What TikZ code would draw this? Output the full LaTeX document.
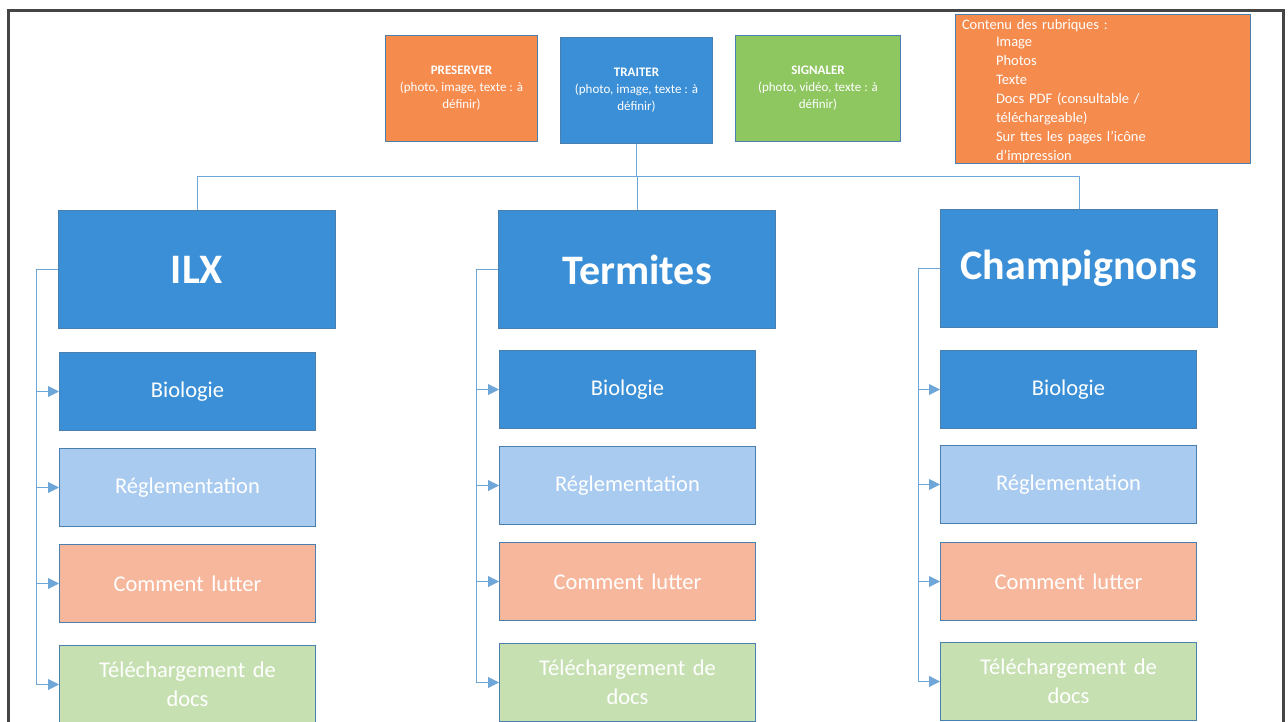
\documentclass[tikz,border=0pt]{standalone}
\usepackage{fontspec}
\setmainfont{Carlito}
\usetikzlibrary{arrows.meta}
\definecolor{mainblue}{HTML}{3A8FD6}
\definecolor{edgeblue}{HTML}{4A7FAE}
\definecolor{lineblue}{HTML}{6FA6D8}
\definecolor{paleblue}{HTML}{A9CBF0}
\definecolor{salmon}{HTML}{F7B79C}
\definecolor{palegreen}{HTML}{C6E0B2}
\definecolor{orangebox}{HTML}{F68B4E}
\definecolor{greenbox}{HTML}{8EC660}
\definecolor{framegrey}{HTML}{454545}
\tikzset{
  box/.style={draw=edgeblue, line width=1pt, anchor=north west, inner sep=4pt,
    text=white, align=center},
  topbox/.style={box, minimum width=152pt, minimum height=106pt,
    font=\fontsize{13}{17}\selectfont},
  headbox/.style={box, fill=mainblue, minimum width=277pt, minimum height=118pt,
    font=\fontsize{42}{46}\selectfont\bfseries},
  subbox/.style={box, minimum width=256pt, minimum height=78pt, text width=240pt,
    font=\fontsize{22.5}{29}\selectfont},
  bio/.style={subbox, fill=mainblue},
  regl/.style={subbox, fill=paleblue},
  lutte/.style={subbox, fill=salmon},
  docs/.style={subbox, fill=palegreen},
  link/.style={draw=lineblue, line width=1pt},
  feed/.style={link, -{Triangle[length=11pt, width=11pt, fill=lineblue]}}
}
\begin{document}
\begin{tikzpicture}[x=1pt, y=-1pt]
  \useasboundingbox (0,0) rectangle (1288,722);
  % page frame
  \draw[framegrey, line width=3pt] (8,760) -- (8,11) -- (1283,11) -- (1283,760);

  % top row
  \node[topbox, fill=orangebox] (preserver) at (385,35)
    {\textbf{PRESERVER}\\(photo, image, texte : à\\définir)};
  \node[topbox, fill=mainblue] (traiter) at (560,37)
    {\textbf{TRAITER}\\(photo, image, texte : à\\définir)};
  \node[topbox, fill=greenbox, minimum width=165pt] (signaler) at (735,35)
    {\textbf{SIGNALER}\\(photo, vidéo, texte : à\\définir)};
  \node[box, fill=orangebox, minimum width=295pt, minimum height=149pt,
        align=left, anchor=north west, text width=282pt,
        font=\fontsize{14.5}{19}\selectfont, inner sep=5pt] (contenu) at (955,14)
    {\vspace{-2pt}Contenu des rubriques :\\
     \hspace*{34pt}Image\\
     \hspace*{34pt}Photos\\
     \hspace*{34pt}Texte\\
     \hspace*{34pt}Docs PDF (consultable /\\
     \hspace*{34pt}téléchargeable)\\
     \hspace*{34pt}Sur ttes les pages l'icône\\
     \hspace*{34pt}d'impression\vspace{-4pt}};

  % column heads
  \node[headbox] (ilx) at (58,210) {ILX};
  \node[headbox] (termites) at (498,210) {Termites};
  \node[headbox] (champ) at (940,209) {Champignons};

  % ILX column
  \node[bio] (bioA) at (59,352) {Biologie};
  \node[regl] (reglA) at (59,448) {Réglementation};
  \node[lutte] (lutteA) at (59,544) {Comment lutter};
  \node[docs] (docsA) at (59,645) {Téléchargement de\\docs};

  % Termites column
  \node[bio] (bioB) at (499,350) {Biologie};
  \node[regl] (reglB) at (499,446) {Réglementation};
  \node[lutte] (lutteB) at (499,542) {Comment lutter};
  \node[docs] (docsB) at (499,643) {Téléchargement de\\docs};

  % Champignons column
  \node[bio] (bioC) at (940,350) {Biologie};
  \node[regl] (reglC) at (940,445) {Réglementation};
  \node[lutte] (lutteC) at (940,542) {Comment lutter};
  \node[docs] (docsC) at (940,642) {Téléchargement de\\docs};

  % tree from TRAITER to the three heads
  \coordinate (bus) at (0,177);
  \draw[link] (traiter.south) -- (traiter.south |- bus);
  \draw[link] (ilx.north) -- (ilx.north |- bus) -| (champ.north);
  \draw[link] (termites.north) -- (termites.north |- bus);

  % side spines feeding each column
  \foreach \h/\a/\b/\c/\d in {ilx/bioA/reglA/lutteA/docsA,
                             termites/bioB/reglB/lutteB/docsB,
                             champ/bioC/reglC/lutteC/docsC}{
    \coordinate (sp) at ([xshift=-22pt]\h.west);
    \draw[link] (\h.west) -- (sp);
    \draw[feed] (sp) |- (\a.west);
    \draw[feed] (sp) |- (\b.west);
    \draw[feed] (sp) |- (\c.west);
    \draw[feed] (sp) |- (\d.west);
  }
\end{tikzpicture}
\end{document}
